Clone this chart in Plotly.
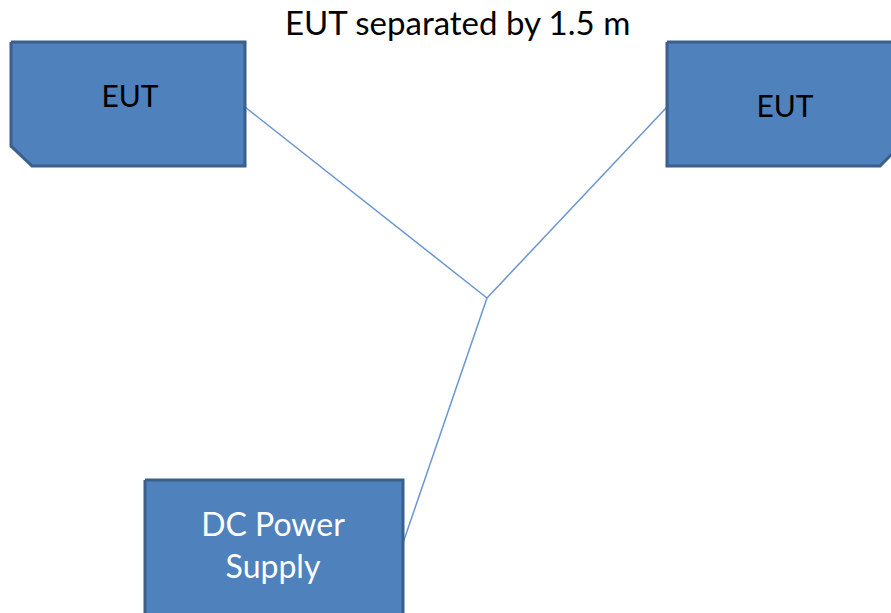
import plotly.graph_objects as go

# Diagram content (pixel coordinates of the drawing canvas, y downwards)
title_text = "EUT separated by 1.5 m"

box_labels = ["EUT", "EUT", "DC Power<br>Supply"]
box_label_x = [130, 785, 273]
box_label_y = [99, 109, 549]
box_label_colors = ["#000000", "#000000", "#FFFFFF"]
box_label_sizes = [30, 30, 32]

# outline vertices for each box (chamfered corners where present)
box_x = [
    [11, 245, 245, 32, 11, 11],
    [667, 900, 900, 880, 667, 667],
    [145, 403, 403, 145, 145],
]
box_y = [
    [42, 42, 166, 166, 146, 42],
    [42, 42, 146, 166, 166, 42],
    [480, 480, 640, 640, 480],
]

wire_x = [[245, 487], [667, 487], [403, 487]]
wire_y = [[107, 298], [107, 298], [543, 298]]

FILL = "#4F81BD"
EDGE = "#3A5F8B"
WIRE = "#6A96CF"
FONT = "Lato, 'Open Sans', sans-serif"

fig = go.Figure()

for wx, wy in zip(wire_x, wire_y):
    fig.add_trace(go.Scatter(x=wx, y=wy, mode="lines",
                             line=dict(color=WIRE, width=1.5),
                             hoverinfo="skip", showlegend=False))

for bx, by in zip(box_x, box_y):
    fig.add_trace(go.Scatter(x=bx, y=by, mode="lines", fill="toself",
                             fillcolor=FILL,
                             line=dict(color=EDGE, width=3),
                             hoverinfo="skip", showlegend=False))

fig.add_trace(go.Scatter(x=box_label_x, y=box_label_y, mode="text",
                         text=box_labels,
                         textfont=dict(family=FONT, size=box_label_sizes,
                                       color=box_label_colors),
                         hoverinfo="skip", showlegend=False))

fig.add_annotation(x=457, y=22, text=title_text, showarrow=False,
                   font=dict(family=FONT, size=33, color="#000000"),
                   xanchor="center", yanchor="middle")

fig.update_xaxes(range=[0, 891], visible=False, showgrid=False, zeroline=False)
fig.update_yaxes(range=[613, 0], visible=False, showgrid=False, zeroline=False)
fig.update_layout(width=891, height=613, margin=dict(l=0, r=0, t=0, b=0),
                  plot_bgcolor="white", paper_bgcolor="white")

fig.write_html("out.html", config={"displayModeBar": False},
               post_script="document.body.style.margin='0';document.body.style.overflow='hidden';")
